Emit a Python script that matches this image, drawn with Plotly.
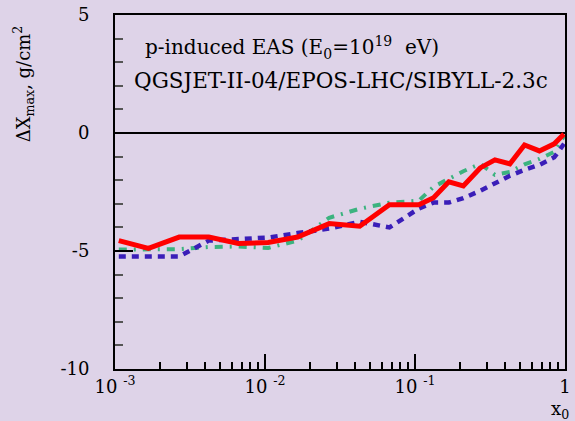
import plotly.graph_objects as go

# Bjorken-x bins of the leading nucleon (x0) and Xmax shifts for each model
x0 = [0.00106, 0.00167, 0.00268, 0.00422, 0.00664, 0.0105, 0.0165, 0.0268,
      0.0428, 0.0675, 0.106, 0.133, 0.168, 0.210, 0.272, 0.341, 0.429,
      0.537, 0.675, 0.848, 0.985]
dx_qgsjet = [-4.56, -4.89, -4.41, -4.41, -4.68, -4.64, -4.41, -3.84, -3.95,
             -3.04, -3.04, -2.74, -2.07, -2.24, -1.48, -1.14, -1.31, -0.51,
             -0.76, -0.46, -0.04]
dx_epos = [-5.23, -5.23, -5.23, -4.56, -4.51, -4.43, -4.24, -4.05, -3.76,
           -4.00, -3.20, -2.95, -2.95, -2.76, -2.45, -2.13, -1.81, -1.56,
           -1.35, -1.03, -0.46]
dx_sibyll = [-4.94, -4.94, -4.92, -4.83, -4.81, -4.87, -4.56, -3.59, -3.21,
             -2.95, -2.87, -2.28, -1.93, -1.62, -1.31, -1.77, -1.65, -1.33,
             -1.10, -0.80, -0.13]

x_tickvals = [1e-3, 1e-2, 1e-1, 1]
x_ticktext = ["10 <sup>-3</sup>", "10 <sup>-2</sup>", "10 <sup>-1</sup>", "1"]
x_minor = [m * 10.0 ** e for e in (-3, -2, -1) for m in range(2, 10)]
y_tickvals = [-10, -5, 0, 5]
y_ticktext = ["-10", "-5", "0", "5"]

BG = "#ded3e8"
FONT = "DejaVu Serif"
FS = 18

fig = go.Figure()
fig.add_trace(go.Scatter(x=x0, y=dx_sibyll, mode="lines",
                         line=dict(color="#3cb37f", width=4,
                                   dash="8px,7px,2px,7px")))
fig.add_trace(go.Scatter(x=x0, y=dx_epos, mode="lines",
                         line=dict(color="#3a1eb8", width=4.5, dash="7px,6px")))
fig.add_trace(go.Scatter(x=x0, y=dx_qgsjet, mode="lines",
                         line=dict(color="#ff0000", width=5)))

fig.update_layout(
    width=575, height=421,
    margin=dict(l=115, r=4, t=14, b=52),
    paper_bgcolor=BG, plot_bgcolor=BG,
    showlegend=False,
    font=dict(family=FONT, size=FS, color="black"),
)

fig.update_xaxes(
    type="log", range=[-3, 0],
    showgrid=False, zeroline=False,
    showline=True, mirror=True, linecolor="black", linewidth=2,
    ticks="inside", ticklen=15, tickwidth=1.5, tickcolor="black",
    tickvals=x_tickvals, ticktext=x_ticktext,
    minor=dict(ticks="inside", ticklen=7, tickwidth=1.5, tickcolor="black",
               tickvals=x_minor, showgrid=False),
    tickfont=dict(family=FONT, size=FS),
)
fig.update_yaxes(
    range=[-10, 5],
    showgrid=False,
    zeroline=True, zerolinecolor="black", zerolinewidth=1.5,
    showline=True, mirror=True, linecolor="black", linewidth=2,
    ticks="inside", ticklen=18, tickwidth=1.5, tickcolor="black",
    tickvals=y_tickvals, ticktext=y_ticktext, ticklabelstandoff=20,
    minor=dict(ticks="inside", ticklen=8, tickwidth=1.5, tickcolor="#555555",
               dtick=1, showgrid=False),
    tickfont=dict(family=FONT, size=FS),
)

fig.add_annotation(text="p-induced EAS (E<sub>0</sub>=10<sup>19</sup>  eV)",
                   xref="paper", yref="paper", x=0.0614, y=0.907,
                   xanchor="left", yanchor="middle", showarrow=False,
                   font=dict(family=FONT, size=20))
fig.add_annotation(text="QGSJET-II-04/EPOS-LHC/SIBYLL-2.3c",
                   xref="paper", yref="paper", x=0.0373, y=0.814,
                   xanchor="left", yanchor="middle", showarrow=False,
                   font=dict(family=FONT, size=21.5))
fig.add_annotation(text="ΔX<sub>max</sub>, g/cm<sup>2</sup>",
                   xref="paper", yref="paper", x=(22 - 115) / 456, y=0.805,
                   xanchor="center", yanchor="middle", textangle=-90,
                   showarrow=False, font=dict(family=FONT, size=FS))
fig.add_annotation(text="x<sub>0</sub>",
                   xref="paper", yref="paper", x=(566 - 115) / 456, y=-0.115,
                   xanchor="center", yanchor="middle", showarrow=False,
                   font=dict(family=FONT, size=FS))

fig.write_html("out.html")
